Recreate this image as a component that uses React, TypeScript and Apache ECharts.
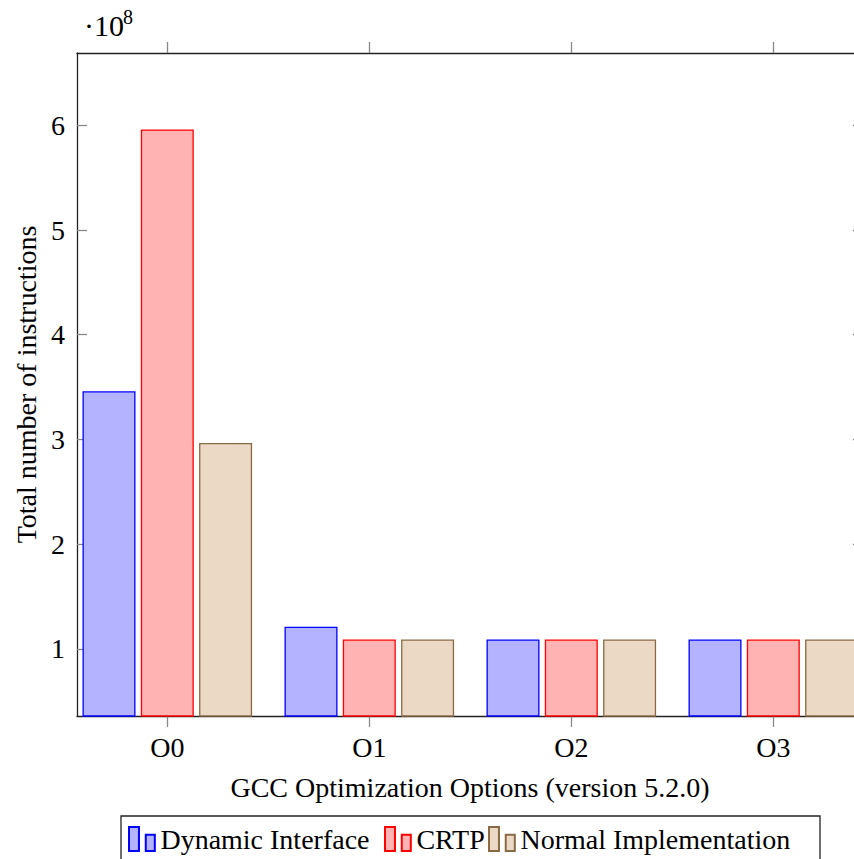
import React, { useEffect, useRef } from "react";
import * as echarts from "echarts";

const categories = ["O0", "O1", "O2", "O3"];
const seriesNames = ["Dynamic Interface", "CRTP", "Normal Implementation"];
// values in units of 10^8 instructions
const dynamicValues = [3.46, 1.213, 1.09, 1.09];
const crtpValues = [5.96, 1.09, 1.09, 1.09];
const normalValues = [2.967, 1.09, 1.09, 1.09];
const yTicks = [1, 2, 3, 4, 5, 6];

const FONT = "Liberation Serif";
const FS = 28;

export default function App() {
  const ref = useRef<HTMLDivElement>(null);
  useEffect(() => {
    document.body.style.margin = "0";
    const chart = echarts.init(ref.current!, null, { renderer: "svg" });
    const xIdx = categories.map((_, i) => i);
    const mk = (name: string, vals: number[], fill: string, border: string) => ({
      name,
      type: "bar",
      xAxisIndex: 0,
      yAxisIndex: 0,
      barWidth: 53,
      barGap: "10%",
      data: vals.map((v, i) => [xIdx[i], v]),
      itemStyle: { color: fill, borderColor: border, borderWidth: 1.3 },
    });
    const icon = "path://M0,0h22v53h-22z M37,17h20v36h-20z";
    const legendBase = {
      orient: "horizontal",
      top: 825,
      itemWidth: 27,
      itemHeight: 24,
      itemGap: 0,
      icon,
      selectedMode: false,
      textStyle: { fontFamily: FONT, fontSize: FS, color: "#000" },
      padding: 0,
    };
    const tickStyle = { color: "#888", width: 1.3 };
    const axisLineStyle = { color: "#222", width: 1.3 };
    chart.setOption({
      animation: false,
      backgroundColor: "#fff",
      grid: { left: 77, right: 17, top: 53, bottom: 143, containLabel: false },
      xAxis: [
        {
          type: "value",
          position: "bottom",
          min: -0.447,
          max: 3.444,
          name: "GCC Optimization Options (version 5.2.0)",
          nameLocation: "middle",
          nameGap: 57,
          nameTextStyle: { fontFamily: FONT, fontSize: FS, color: "#000" },
          axisLine: { show: true, onZero: false, lineStyle: axisLineStyle },
          axisTick: { show: true, inside: false, length: 11, lineStyle: tickStyle, customValues: xIdx },
          axisLabel: {
            customValues: xIdx,
            margin: 17,
            fontFamily: FONT,
            fontSize: FS,
            color: "#000",
            formatter: (v: number) => categories[Math.round(v)] ?? "",
          },
          splitLine: { show: false },
        },
        {
          type: "value",
          position: "top",
          min: -0.447,
          max: 3.444,
          axisLine: { show: true, onZero: false, lineStyle: axisLineStyle },
          axisTick: { show: true, inside: false, length: 11, lineStyle: tickStyle, customValues: xIdx },
          axisLabel: { show: false },
          splitLine: { show: false },
        },
      ],
      yAxis: [
        {
          type: "value",
          position: "left",
          min: 0.36,
          max: 6.69,
          name: "Total number of instructions",
          nameLocation: "middle",
          nameGap: 34,
          nameTextStyle: { fontFamily: FONT, fontSize: FS, color: "#000" },
          axisLine: { show: true, onZero: false, lineStyle: axisLineStyle },
          axisTick: { show: true, inside: true, length: 10, lineStyle: tickStyle, customValues: yTicks },
          axisLabel: {
            customValues: yTicks,
            margin: 12,
            fontFamily: FONT,
            fontSize: FS,
            color: "#000",
          },
          splitLine: { show: false },
        },
        {
          type: "value",
          position: "right",
          min: 0.36,
          max: 6.69,
          axisLine: { show: true, onZero: false, lineStyle: axisLineStyle },
          axisTick: { show: true, inside: true, length: 10, lineStyle: tickStyle, customValues: yTicks },
          axisLabel: { show: false },
          splitLine: { show: false },
        },
      ],
      legend: [
        { ...legendBase, left: 128, data: [seriesNames[0]] },
        { ...legendBase, left: 384, data: [seriesNames[1]] },
        { ...legendBase, left: 488, data: [seriesNames[2]] },
      ],
      graphic: [
        {
          type: "rect",
          shape: { x: 121, y: 816, width: 699, height: 60 },
          style: { fill: "none", stroke: "#222", lineWidth: 1.3 },
          silent: true,
        },
        {
          type: "text",
          x: 84,
          y: 25,
          style: { text: "·10", fontFamily: FONT, fontSize: 30, fill: "#000", verticalAlign: "middle" },
        },
        {
          type: "text",
          x: 123,
          y: 17,
          style: { text: "8", fontFamily: FONT, fontSize: 20, fill: "#000", verticalAlign: "middle" },
        },
      ],
      series: [
        mk(seriesNames[0], dynamicValues, "#b3b3ff", "#0000ff"),
        mk(seriesNames[1], crtpValues, "#ffb3b3", "#ff0000"),
        mk(seriesNames[2], normalValues, "#ebd9c6", "#8a6a45"),
      ],
    });
    return () => chart.dispose();
  }, []);
  return (
    <div style={{ width: 854, height: 859, overflow: "hidden", position: "relative" }}>
      <div ref={ref} style={{ width: 880, height: 859 }} />
    </div>
  );
}
